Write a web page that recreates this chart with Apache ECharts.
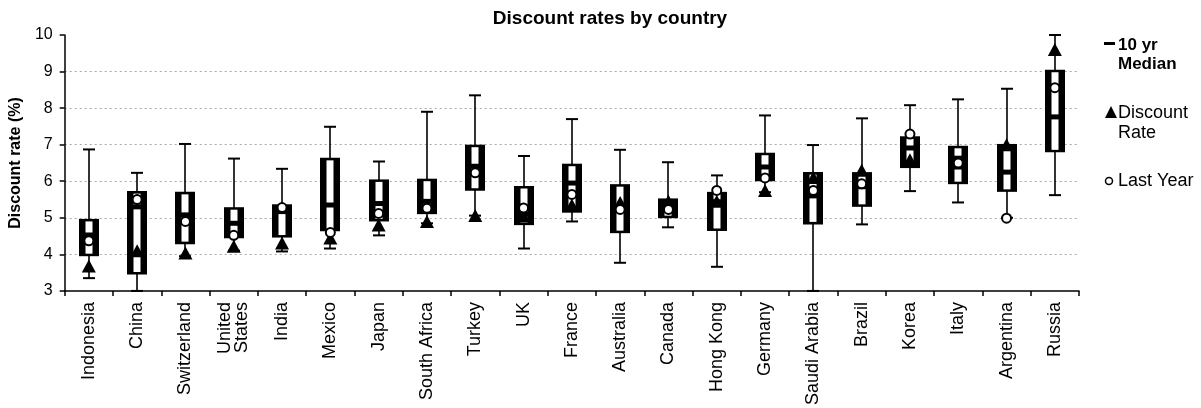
<!DOCTYPE html>
<html>
<head>
<meta charset="utf-8">
<title>Discount rates by country</title>
<script src="https://cdn.jsdelivr.net/npm/echarts@6/dist/echarts.min.js"></script>
<style>
  html, body { margin: 0; padding: 0; background: #fff; }
  #chart { width: 1201px; height: 408px; }
</style>
</head>
<body>
<div id="chart"></div>
<script>
// Countries along the x axis
const categories = [
  'Indonesia', 'China', 'Switzerland', 'United\nStates', 'India', 'Mexico', 'Japan',
  'South Africa', 'Turkey', 'UK', 'France', 'Australia', 'Canada', 'Hong Kong',
  'Germany', 'Saudi Arabia', 'Brazil', 'Korea', 'Italy', 'Argentina', 'Russia'
];

// 10-year distribution of discount rates (%)
const low    = [3.35, 3.00, 3.95, 4.10, 4.08, 4.16, 4.52, 4.85, 5.06, 4.16, 4.90, 3.77, 4.74, 3.66, 5.70, 3.00, 4.82, 5.73, 5.42, 5.00, 5.62];
const q1     = [3.95, 3.45, 4.28, 4.44, 4.46, 4.63, 4.90, 5.10, 5.74, 4.80, 5.14, 4.58, 4.99, 4.64, 6.00, 4.82, 5.30, 6.36, 5.92, 5.71, 6.79];
const median = [4.53, 5.30, 5.08, 4.85, 5.17, 5.35, 5.39, 5.45, 6.41, 5.10, 5.95, 5.30, 5.40, 5.44, 6.39, 5.60, 5.85, 6.91, 6.63, 6.25, 7.76];
const q3     = [4.97, 5.73, 5.71, 5.29, 5.37, 6.64, 6.05, 6.07, 7.00, 5.87, 6.48, 5.92, 5.53, 5.71, 6.78, 6.25, 6.25, 7.23, 6.97, 7.02, 9.05];
const high   = [6.87, 6.23, 7.02, 6.62, 6.34, 7.49, 6.54, 7.90, 8.35, 6.69, 7.70, 6.86, 6.52, 6.16, 7.80, 6.99, 7.72, 8.08, 8.24, 8.53, 10.00];

// Current discount rate and last year's rate (%)
const discountRate = [3.68, 4.10, 4.04, 4.22, 4.31, 4.45, 4.80, 4.90, 5.06, 5.05, 5.35, 5.42, 5.45, 5.45, 5.75, 6.10, 6.30, 6.59, 6.50, 7.00, 9.60];
const lastYear     = [4.37, 5.50, 4.90, 4.52, 5.28, 4.60, 5.12, 5.26, 6.23, 5.27, 5.64, 5.23, 5.23, 5.75, 6.09, 5.75, 5.93, 7.29, 6.50, 4.99, 8.56];

// Y axis range and step
const yMin = 3, yMax = 10, yStep = 1;

const FONT = "'Liberation Sans', Arial, sans-serif";

const boxData = categories.map((c, i) => [i, low[i], q1[i], median[i], q3[i], high[i]]);
const rateData = discountRate.map((v, i) => [i, v]);
const lastData = lastYear.map((v, i) => [i, v]);

// Box: black body with a white centre stripe broken by the median bar,
// thin whiskers with short caps.
function renderBox(params, api) {
  const i = api.value(0);
  const pLow = api.coord([i, api.value(1)]);
  const pQ1 = api.coord([i, api.value(2)]);
  const pMed = api.coord([i, api.value(3)]);
  const pQ3 = api.coord([i, api.value(4)]);
  const pHigh = api.coord([i, api.value(5)]);
  const cx = Math.round(pLow[0]);
  const boxW = 20, stripeW = 7, capW = 12, medH = 5, inset = 2.5;
  const black = '#000';
  const children = [
    { type: 'line', shape: { x1: cx, y1: pLow[1], x2: cx, y2: pHigh[1] },
      style: { stroke: black, lineWidth: 1.6 } },
    { type: 'line', shape: { x1: cx - capW / 2, y1: pHigh[1], x2: cx + capW / 2, y2: pHigh[1] },
      style: { stroke: black, lineWidth: 2 } },
    { type: 'line', shape: { x1: cx - capW / 2, y1: pLow[1], x2: cx + capW / 2, y2: pLow[1] },
      style: { stroke: black, lineWidth: 2 } },
    { type: 'rect', shape: { x: cx - boxW / 2, y: pQ3[1], width: boxW, height: pQ1[1] - pQ3[1] },
      style: { fill: black } },
    { type: 'rect', shape: { x: cx - stripeW / 2, y: pQ3[1] + inset, width: stripeW,
        height: Math.max(0, pQ1[1] - pQ3[1] - 2 * inset) },
      style: { fill: '#fff' } },
    { type: 'rect', shape: { x: cx - boxW / 2, y: pMed[1] - medH / 2, width: boxW, height: medH },
      style: { fill: black } }
  ];
  return { type: 'group', children };
}

const chart = echarts.init(document.getElementById('chart'), null, { renderer: 'canvas' });

chart.setOption({
  animation: false,
  backgroundColor: '#fff',
  title: {
    text: 'Discount rates by country',
    left: 605,
    top: 4,
    textAlign: 'center',
    textStyle: { fontFamily: FONT, fontSize: 19, fontWeight: 'bold', color: '#000' }
  },
  grid: { left: 64, right: 122, top: 35, bottom: 115, containLabel: false },
  xAxis: {
    type: 'category',
    data: categories,
    boundaryGap: true,
    axisLine: { lineStyle: { color: '#000', width: 1.5 } },
    axisTick: { show: true, length: 5, lineStyle: { color: '#000', width: 1.5 } },
    axisLabel: {
      interval: 0, rotate: 90, margin: 11,
      fontFamily: FONT, fontSize: 18, color: '#000', lineHeight: 17
    },
    splitLine: { show: false }
  },
  yAxis: {
    type: 'value',
    min: yMin, max: yMax, interval: yStep,
    name: 'Discount rate (%)',
    nameLocation: 'middle',
    nameRotate: 90,
    nameGap: 38,
    nameTextStyle: { fontFamily: FONT, fontSize: 16, fontWeight: 'bold', color: '#000' },
    axisLine: { show: true, lineStyle: { color: '#000', width: 1.5 } },
    axisTick: { show: true, length: 5, lineStyle: { color: '#000', width: 1.5 } },
    axisLabel: { margin: 12, fontFamily: FONT, fontSize: 16, color: '#000' },
    splitLine: {
      show: true, showMinLine: false, showMaxLine: false,
      lineStyle: { color: '#a8a8a8', width: 1, type: [2, 3] }
    }
  },
  series: [
    {
      name: '10 yr Median',
      type: 'custom',
      renderItem: renderBox,
      data: boxData,
      encode: { x: 0, y: [1, 2, 3, 4, 5] },
      z: 2
    },
    {
      name: 'Discount Rate',
      type: 'scatter',
      data: rateData,
      symbol: 'triangle',
      symbolSize: [14, 13],
      itemStyle: { color: '#000', opacity: 1 },
      z: 3
    },
    {
      name: 'Last Year',
      type: 'scatter',
      data: lastData,
      symbol: 'circle',
      symbolSize: 9,
      itemStyle: { color: '#fff', borderColor: '#000', borderWidth: 2, opacity: 1 },
      z: 4
    }
  ],
  graphic: [
    // legend: median dash
    { type: 'rect', shape: { x: 1104, y: 42, width: 11, height: 3 }, style: { fill: '#000' } },
    { type: 'text', left: 1118, top: 36, style: { text: '10 yr\nMedian', font: "bold 17px 'Liberation Sans', Arial", fill: '#000', lineHeight: 19 } },
    // legend: discount rate triangle
    { type: 'polygon', shape: { points: [[1105, 118], [1111, 106], [1117, 118]] }, style: { fill: '#000' } },
    { type: 'text', left: 1118, top: 103, style: { text: 'Discount\nRate', font: "18px 'Liberation Sans', Arial", fill: '#000', lineHeight: 20 } },
    // legend: last year circle
    { type: 'circle', shape: { cx: 1109, cy: 181, r: 3.5 }, style: { fill: '#fff', stroke: '#000', lineWidth: 1.5 } },
    { type: 'text', left: 1118, top: 172, style: { text: 'Last Year', font: "18px 'Liberation Sans', Arial", fill: '#000' } }
  ]
});
</script>
</body>
</html>
